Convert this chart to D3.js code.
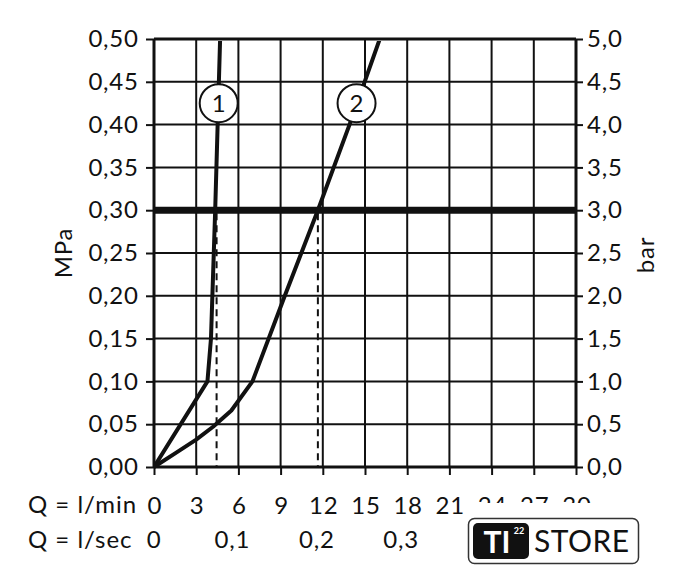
<!DOCTYPE html>
<html><head><meta charset="utf-8">
<script src="https://cdn.jsdelivr.net/npm/d3@7"></script>
<style>body{margin:0;background:#fff}svg{display:block}text{font-family:Lato,"Noto Sans",sans-serif;fill:#111;letter-spacing:0.8px}</style>
</head><body>
<script>
const qTicks = [0,3,6,9,12,15,18,21,24,27,30];
const mpaTicks = [0,0.05,0.1,0.15,0.2,0.25,0.3,0.35,0.4,0.45,0.5];
const barTicks = [0,0.5,1,1.5,2,2.5,3,3.5,4,4.5,5];
const lsecTicks = [0,0.1,0.2,0.3];
const curve1 = [[0,0],[3.8,0.1],[4.05,0.15],[4.35,0.3],[4.7,0.5]];
const curve2 = [[0,0],[1.5,0.016],[3,0.032],[4.2,0.047],[5.5,0.066],[7,0.1],[9.3,0.2],[11.65,0.3],[13.9,0.4],[16.05,0.5]];
const refPressure = 0.3;
const dropQ = [4.45, 11.65];
const labels = [{id:"1", q:4.6, p:0.425},{id:"2", q:14.4, p:0.425}];

const W=680,H=576;
const svg=d3.select("body").append("svg").attr("width",W).attr("height",H);
const x=d3.scaleLinear().domain([0,30]).range([154,576]);
const y=d3.scaleLinear().domain([0,0.5]).range([467,39]);
const yb=d3.scaleLinear().domain([0,5]).range([467,39]);
const fmt2=d=>d3.format(".2f")(d).replace(".",",");
const fmt1=d=>d3.format(".1f")(d).replace(".",",");

// grid
const g=svg.append("g");
g.selectAll(".vg").data(qTicks).join("line").attr("x1",d=>x(d)).attr("x2",d=>x(d)).attr("y1",y(0.5)).attr("y2",y(0))
 .attr("stroke","#111").attr("stroke-width",(d,i)=>(i==0||i==qTicks.length-1)?3:2);
g.selectAll(".hg").data(mpaTicks).join("line").attr("x1",x(0)).attr("x2",x(30)).attr("y1",d=>y(d)).attr("y2",d=>y(d))
 .attr("stroke","#111").attr("stroke-width",(d,i)=>(i==0||i==mpaTicks.length-1)?3:2);

// axes
const la=svg.append("g").attr("transform",`translate(${x(0)},0)`)
 .call(d3.axisLeft(y).tickValues(mpaTicks).tickFormat(fmt2).tickSize(8).tickPadding(8));
const ra=svg.append("g").attr("transform",`translate(${x(30)},0)`)
 .call(d3.axisRight(yb).tickValues(barTicks).tickFormat(fmt1).tickSize(7).tickPadding(4));
const ba=svg.append("g").attr("transform",`translate(0,${y(0)})`)
 .call(d3.axisBottom(x).tickValues(qTicks).tickFormat(d3.format("d")).tickSize(8).tickPadding(22));
[la,ra,ba].forEach(a=>{a.select(".domain").remove();a.selectAll(".tick line").attr("stroke","#111").attr("stroke-width",2);
 a.selectAll("text").attr("font-size",24).attr("fill","#111").attr("font-family","Lato, sans-serif");});
la.selectAll("text").attr("dx",0.8);
ba.selectAll("text").attr("dx",0.4);

// l/sec row
svg.append("g").selectAll("text").data(lsecTicks).join("text")
 .attr("x",d=>x(d*60)+(d===0?0:-6)).attr("y",548).attr("text-anchor","middle").attr("font-size",24)
 .text(d=>d===0?"0":fmt1(d));
svg.append("text").attr("x",28).attr("y",513).attr("font-size",24).style("letter-spacing","1px").text("Q = l/min");
svg.append("text").attr("x",28).attr("y",548).attr("font-size",24).style("letter-spacing","1px").text("Q = l/sec");

// axis titles
svg.append("text").attr("transform","translate(72,253) rotate(-90)").attr("text-anchor","middle").attr("font-size",24).text("MPa");
svg.append("text").attr("transform","translate(654,255) rotate(-90)").attr("text-anchor","middle").attr("font-size",24).text("bar");

// reference line
svg.append("line").attr("x1",x(0)).attr("x2",x(30)).attr("y1",y(refPressure)).attr("y2",y(refPressure)).attr("stroke","#111").attr("stroke-width",7);
svg.selectAll(".drop").data(dropQ).join("line").attr("x1",d=>x(d)).attr("x2",d=>x(d)).attr("y1",y(refPressure)+3).attr("y2",y(0))
 .attr("stroke","#111").attr("stroke-width",2).attr("stroke-dasharray","7,5");

// curves
svg.append("clipPath").attr("id","clip").append("rect").attr("x",x(0)).attr("y",y(0.5)+2).attr("width",x(30)-x(0)).attr("height",y(0)-y(0.5));
const line=d3.line().x(d=>x(d[0])).y(d=>y(d[1]));
[curve1,curve2].forEach(c=>svg.append("path").attr("d",line(c)).attr("fill","none").attr("stroke","#111").attr("stroke-width",4).attr("stroke-linejoin","round").attr("clip-path","url(#clip)"));

// circled labels
const lg=svg.selectAll(".lab").data(labels).join("g").attr("transform",d=>`translate(${x(d.q)},${y(d.p)})`);
lg.append("circle").attr("r",19).attr("fill","#fff").attr("stroke","#111").attr("stroke-width",2);
lg.append("text").attr("text-anchor","middle").attr("dy","0.36em").attr("dx",0.4).attr("font-size",24).text(d=>d.id);

// watermark area
svg.append("rect").attr("x",474).attr("y",503).attr("width",130).attr("height",16).attr("fill","#fff");
const lo=svg.append("g");
lo.append("rect").attr("x",468.5).attr("y",518.5).attr("width",170).attr("height",45).attr("rx",6).attr("fill","#fff").attr("stroke","#333").attr("stroke-width",1.5);
lo.append("rect").attr("x",473).attr("y",523).attr("width",56).attr("height",36).attr("rx",5).attr("fill","#111");
lo.append("text").attr("x",497).attr("y",553).attr("text-anchor","middle").attr("font-size",30).attr("font-weight","bold").style("fill","#fff").style("letter-spacing","0px").text("TI");
lo.append("text").attr("x",519).attr("y",534).attr("text-anchor","middle").attr("font-size",9).attr("font-weight","bold").style("fill","#fff").style("letter-spacing","0px").text("22");
lo.append("text").attr("x",534).attr("y",552).attr("font-size",30).style("letter-spacing","0.5px").text("STORE");
</script>
</body></html>
